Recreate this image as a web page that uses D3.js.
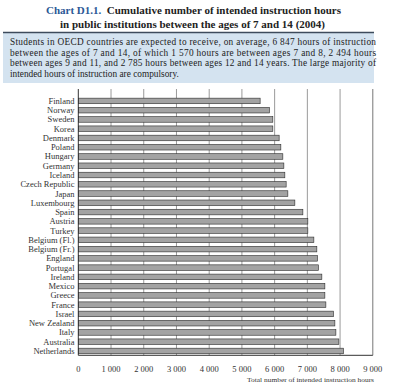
<!DOCTYPE html>
<html><head><meta charset="utf-8">
<script src="https://cdn.jsdelivr.net/npm/d3@7"></script>
<style>body{margin:0;background:#fff}svg{display:block}</style>
</head><body>
<svg id="c" width="400" height="390"></svg>
<script>
const countries = ["Finland","Norway","Sweden","Korea","Denmark","Poland","Hungary","Germany","Iceland","Czech Republic","Japan","Luxembourg","Spain","Austria","Turkey","Belgium (Fl.)","Belgium (Fr.)","England","Portugal","Ireland","Mexico","Greece","France","Israel","New Zealand","Italy","Australia","Netherlands"];
const hours = [5557,5841,5945,5945,6138,6190,6251,6282,6312,6352,6404,6618,6863,7015,7015,7199,7290,7310,7340,7443,7535,7535,7566,7798,7841,7872,7963,8104];
const ticks = [0,1000,2000,3000,4000,5000,6000,7000,8000,9000];
const titleLines = ["Cumulative number of intended instruction hours","in public institutions between the ages of 7 and 14 (2004)"];
const bodyLines = [
 "Students in OECD countries are expected to receive, on average, 6 847 hours of instruction",
 "between the ages of 7 and 14, of which 1 570 hours are between ages 7 and 8, 2 494 hours",
 "between ages 9 and 11, and 2 785 hours between ages 12 and 14 years. The large majority of",
 "intended hours of instruction are compulsory."
];
const axisTitle = "Total number of intended instruction hours";

const svg = d3.select("#c");
const serif = "'Liberation Serif','DejaVu Serif',serif";

// Title
const t1 = svg.append("text").attr("x",46).attr("y",14).attr("font-family",serif).attr("font-weight","bold").attr("font-size",11)
  .attr("textLength",295).attr("lengthAdjust","spacingAndGlyphs");
t1.append("tspan").attr("fill","#2b5896").text("Chart D1.1.");
t1.append("tspan").attr("fill","#222").text("\u00a0\u00a0"+titleLines[0]);
svg.append("text").attr("x",60).attr("y",27.5).attr("font-family",serif).attr("font-weight","bold").attr("font-size",11)
  .attr("fill","#222").attr("textLength",265).attr("lengthAdjust","spacingAndGlyphs").text(titleLines[1]);

// Info box
svg.append("rect").attr("x",3).attr("y",32).attr("width",371).attr("height",51).attr("fill","#d4e3f0");
svg.append("line").attr("x1",3).attr("x2",374).attr("y1",32.5).attr("y2",32.5).attr("stroke","#3d4b5c").attr("stroke-width",1.5);
bodyLines.forEach((s,i)=>{
  const t = svg.append("text").attr("x",10).attr("y",45+i*10.7).attr("font-family",serif).attr("font-size",9.3).attr("fill","#222").text(s);
  if (i<3) t.attr("textLength",366).attr("lengthAdjust","spacing");
});

// Chart
const x = d3.scaleLinear().domain([0,9000]).range([78.3,372.8]);
const y = d3.scaleBand().domain(countries).range([96.3,355.6]).paddingInner(0.4).paddingOuter(0.2);
const plotTop = 89, plotBottom = 355.3;

const g = svg.append("g");
g.selectAll("line.grid").data(ticks.slice(1)).join("line")
  .attr("x1",d=>x(d)).attr("x2",d=>x(d)).attr("y1",plotTop).attr("y2",plotBottom)
  .attr("stroke",d=>d===9000?"#777":"#9a9a9a").attr("stroke-width",1);

g.selectAll("rect.bar").data(hours).join("rect")
  .attr("x",x(0)).attr("y",(d,i)=>y(countries[i]))
  .attr("width",d=>x(d)-x(0)).attr("height",y.bandwidth())
  .attr("fill","#a3a3a3").attr("stroke","#2a2a2a").attr("stroke-width",0.6);

g.append("line").attr("x1",x(0)).attr("x2",x(0)).attr("y1",plotTop).attr("y2",plotBottom).attr("stroke","#333").attr("stroke-width",1);
g.append("line").attr("x1",x(0)).attr("x2",x(9000)).attr("y1",plotBottom).attr("y2",plotBottom).attr("stroke","#333").attr("stroke-width",1);

// Country labels
g.selectAll("text.cat").data(countries).join("text")
  .attr("x",74.5).attr("y",d=>y(d)+y.bandwidth()/2).attr("dy","0.35em")
  .attr("text-anchor","end").attr("font-family",serif).attr("font-size",8.5).attr("fill","#333").text(d=>d);

// Tick labels
g.selectAll("text.tick").data(ticks).join("text")
  .attr("x",d=>x(d)).attr("y",372).attr("text-anchor","middle").attr("font-family",serif).attr("font-size",8.5)
  .attr("fill","#333").text(d=>d===0?"0":(d/1000)+" 000");

svg.append("text").attr("x",374).attr("y",382).attr("text-anchor","end").attr("font-family",serif).attr("font-size",7)
  .attr("fill","#333").attr("textLength",127).attr("lengthAdjust","spacingAndGlyphs").text(axisTitle);
</script>
</body></html>
